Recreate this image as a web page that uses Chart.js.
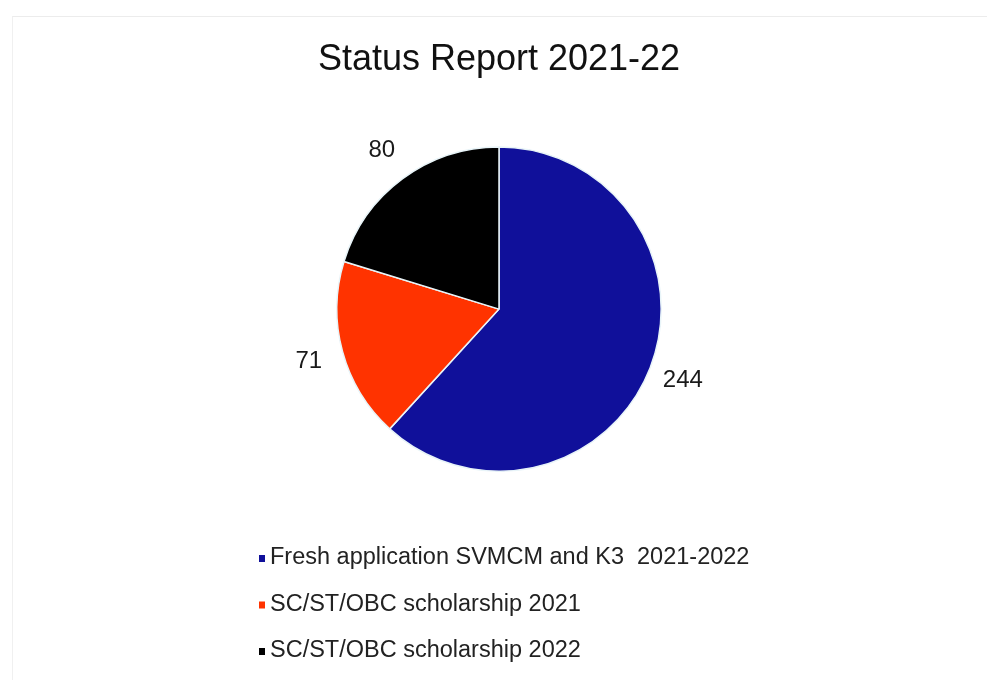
<!DOCTYPE html>
<html>
<head>
<meta charset="utf-8">
<script src="https://cdn.jsdelivr.net/npm/chart.js@4/dist/chart.umd.min.js"></script>
<style>
  html, body { margin: 0; padding: 0; background: #ffffff; }
  #wrap { position: relative; width: 993px; height: 686px; }
  #frame { position: absolute; left: 12px; top: 16px; width: 975px; height: 664px; border-top: 1px solid #ececec; border-left: 1px solid #f0f0f0; box-sizing: border-box; }
  canvas { position: absolute; left: 0; top: 0; }
</style>
</head>
<body>
<div id="wrap">
  <div id="frame"></div>
  <canvas id="c" width="993" height="686"></canvas>
</div>
<script>
const titleText = 'Status Report 2021-22';
const categories = [
  'Fresh application SVMCM and K3  2021-2022',
  'SC/ST/OBC scholarship 2021',
  'SC/ST/OBC scholarship 2022'
];
const values = [244, 71, 80];
const sliceColors = ['#10109a', '#ff3300', '#000000'];

const FONT = '"Liberation Sans", Arial, Helvetica, sans-serif';

const valueLabels = {
  id: 'valueLabels',
  afterDatasetsDraw(chart) {
    const ctx = chart.ctx;
    const meta = chart.getDatasetMeta(0);
    ctx.save();
    ctx.font = '24px ' + FONT;
    ctx.fillStyle = '#1a1a1a';
    ctx.textAlign = 'center';
    ctx.textBaseline = 'middle';
    meta.data.forEach((arc, i) => {
      const p = arc.getProps(['x', 'y', 'startAngle', 'endAngle', 'outerRadius'], true);
      const mid = (p.startAngle + p.endAngle) / 2;
      const r = p.outerRadius + 35;
      ctx.fillText(String(chart.data.datasets[0].data[i]), p.x + Math.cos(mid) * r, p.y + Math.sin(mid) * r);
    });
    ctx.restore();
  }
};

const bottomLegend = {
  id: 'bottomLegend',
  afterDraw(chart) {
    const ctx = chart.ctx;
    const ds = chart.data.datasets[0];
    const x0 = 262, y0 = 558, step = 46.5;
    ctx.save();
    ctx.font = '23.5px ' + FONT;
    ctx.textBaseline = 'middle';
    ctx.textAlign = 'left';
    chart.data.labels.forEach((lab, i) => {
      const y = y0 + i * step;
      ctx.fillStyle = ds.backgroundColor[i];
      ctx.fillRect(x0 - 3, y - 3, 6, 7);
      ctx.fillStyle = '#222222';
      ctx.fillText(lab, x0 + 8, y);
    });
    ctx.restore();
  }
};

new Chart(document.getElementById('c'), {
  type: 'pie',
  data: {
    labels: categories,
    datasets: [{
      data: values,
      backgroundColor: sliceColors,
      borderColor: '#e8f4f8',
      borderWidth: 1.5
    }]
  },
  options: {
    responsive: false,
    animation: false,
    layout: { padding: { top: 0, bottom: 214, left: 5, right: 0 } },
    plugins: {
      legend: { display: false },
      tooltip: { enabled: false },
      title: {
        display: true,
        text: titleText,
        color: '#111111',
        font: { family: FONT, size: 36, weight: 'normal' },
        padding: { top: 38, bottom: 65 }
      }
    }
  },
  plugins: [valueLabels, bottomLegend]
});
</script>
</body>
</html>
